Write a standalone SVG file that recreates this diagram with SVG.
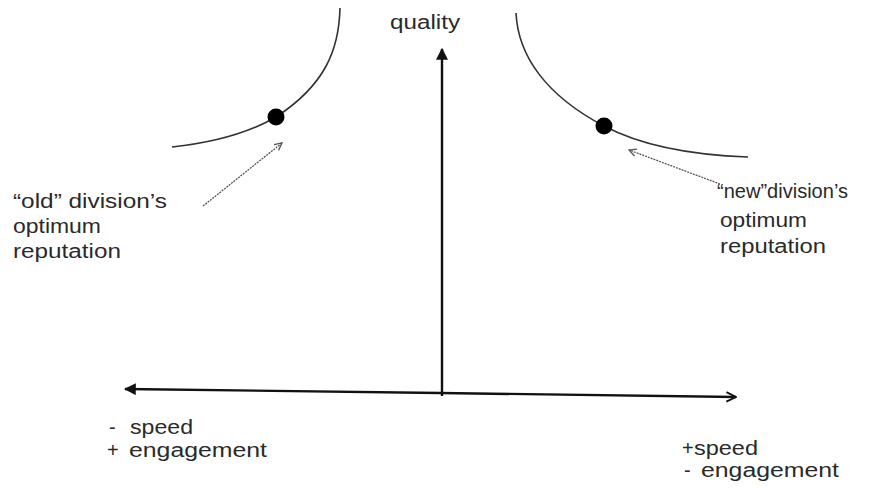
<svg xmlns="http://www.w3.org/2000/svg" width="880" height="488" viewBox="0 0 880 488">
<defs>
<style>
.t{font-family:"Liberation Sans",Arial,sans-serif;font-size:20px;fill:#2a2a2a}
.curve{fill:none;stroke:#333;stroke-width:1.6}
.axis{fill:none;stroke:#111;stroke-width:2.4}
.dot{fill:#000}
.hint{fill:none;stroke:#555;stroke-width:1.3;stroke-dasharray:2 1}
</style>
<marker id="tri" viewBox="0 0 10 10" refX="9" refY="5" markerWidth="5" markerHeight="5" markerUnits="strokeWidth" orient="auto">
<path d="M0,0 L10,5 L0,10 z" fill="#111"/>
</marker>
<marker id="chev" viewBox="0 0 10 10" refX="9" refY="5" markerWidth="5" markerHeight="5" markerUnits="strokeWidth" orient="auto">
<path d="M1,1 L9,5 L1,9" fill="none" stroke="#111" stroke-width="1.6"/>
</marker>
<marker id="small" viewBox="0 0 10 10" refX="9" refY="5" markerWidth="7" markerHeight="7" markerUnits="strokeWidth" orient="auto">
<path d="M1,1 L9,5 L1,9" fill="none" stroke="#555" stroke-width="1.4"/>
</marker>
</defs>
<rect width="880" height="488" fill="#fff"/>
<g id="connectors">
<line class="axis" x1="442" y1="396" x2="442" y2="49" marker-end="url(#tri)"/>
<line class="axis" x1="440" y1="393" x2="125" y2="389" marker-end="url(#tri)"/>
<line class="axis" x1="440" y1="393" x2="736" y2="397" marker-end="url(#chev)"/>
<line class="hint" x1="203" y1="206" x2="282" y2="143" marker-end="url(#small)"/>
<line class="hint" x1="720" y1="184" x2="629" y2="150" marker-end="url(#small)"/>
</g>
<g id="old-curve">
<path class="curve" d="M340,8 C339,50 325,85 276,117 C245,135 210,143 172,147"/>
<circle class="dot" cx="276" cy="117" r="8.5"/>
</g>
<g id="new-curve">
<path class="curve" d="M516,13 C518,55 545,95 604,126 C640,145 690,155 748,157"/>
<circle class="dot" cx="604" cy="126" r="8.5"/>
</g>
<g id="quality-label">
<text class="t" x="390" y="29" textLength="70" lengthAdjust="spacingAndGlyphs">quality</text>
</g>
<g id="old-label">
<text class="t" x="13" y="208" textLength="154" lengthAdjust="spacingAndGlyphs">“old” division’s</text>
<text class="t" x="13" y="233" textLength="88" lengthAdjust="spacingAndGlyphs">optimum</text>
<text class="t" x="13" y="258" textLength="108" lengthAdjust="spacingAndGlyphs">reputation</text>
</g>
<g id="new-label">
<text class="t" x="717" y="198" textLength="131" lengthAdjust="spacingAndGlyphs">“new”division’s</text>
<text class="t" x="720" y="227" textLength="87" lengthAdjust="spacingAndGlyphs">optimum</text>
<text class="t" x="720" y="253" textLength="106" lengthAdjust="spacingAndGlyphs">reputation</text>
</g>
<g id="left-axis-label">
<text class="t" y="434"><tspan x="109">-</tspan><tspan x="130" textLength="63" lengthAdjust="spacingAndGlyphs">speed</tspan></text>
<text class="t" y="457"><tspan x="107">+</tspan><tspan x="129" textLength="138" lengthAdjust="spacingAndGlyphs">engagement</tspan></text>
</g>
<g id="right-axis-label">
<text class="t" y="455"><tspan x="682">+</tspan><tspan x="694" textLength="64" lengthAdjust="spacingAndGlyphs">speed</tspan></text>
<text class="t" y="477"><tspan x="684">-</tspan><tspan x="701" textLength="138" lengthAdjust="spacingAndGlyphs">engagement</tspan></text>
</g>
</svg>
